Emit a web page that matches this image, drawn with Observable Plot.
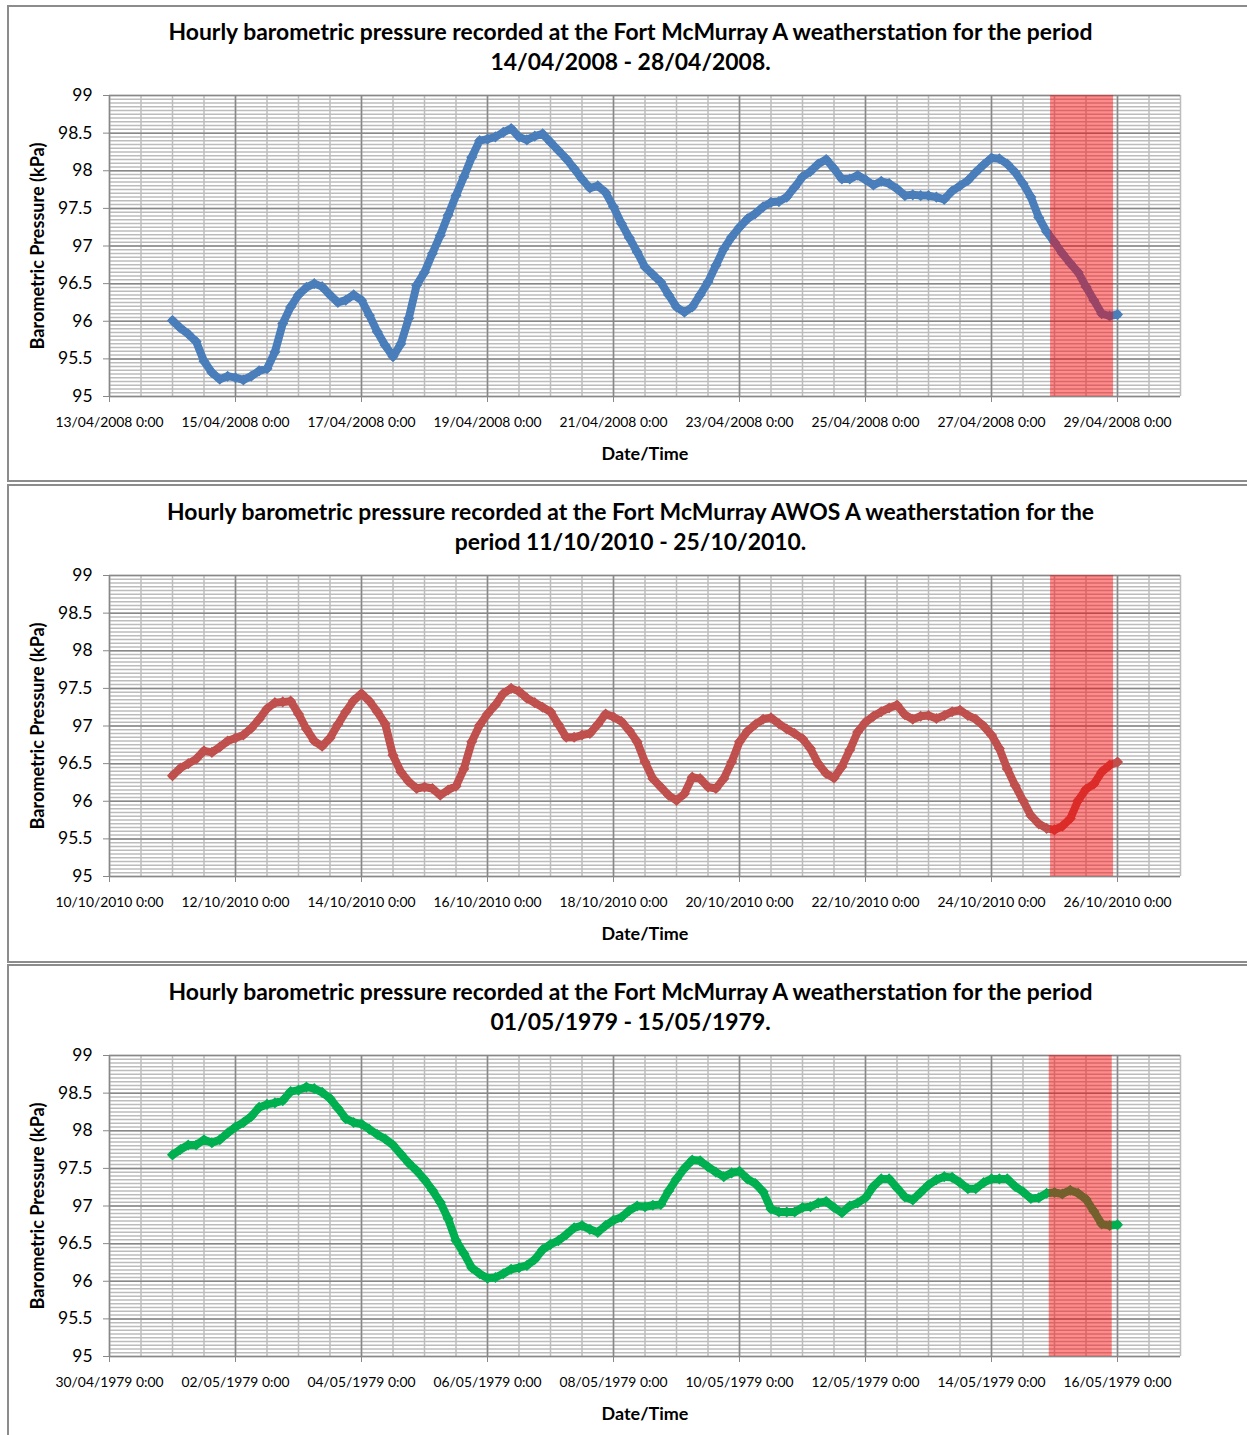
<!DOCTYPE html>
<html>
<head>
<meta charset="utf-8">
<script src="https://cdn.jsdelivr.net/npm/d3@7"></script>
<script src="https://cdn.jsdelivr.net/npm/@observablehq/plot@0.6"></script>
<style>
html, body { margin: 0; padding: 0; background: #fff; overflow: hidden; }
#page { position: relative; width: 1247px; height: 1435px; overflow: hidden; font-family: Lato, sans-serif; }
.panel { position: absolute; left: 7px; width: 1260px; border: 2px solid #8c8c8c; box-sizing: border-box; }
.chart { position: absolute; left: 0; }
</style>
</head>
<body>
<div id="page"></div>
<script>
// ---------------- DATA (3-hourly readings, kPa) ----------------
const yTickLabels = ["95", "95.5", "96", "96.5", "97", "97.5", "98", "98.5", "99"];
const yLabel = "Barometric Pressure (kPa)";
const xLabel = "Date/Time";

const titles2008 = ["Hourly barometric pressure recorded at the Fort McMurray A weatherstation for the period", "14/04/2008 - 28/04/2008."];
const titles2010 = ["Hourly barometric pressure recorded at the Fort McMurray AWOS A weatherstation for the", "period 11/10/2010 - 25/10/2010."];
const titles1979 = ["Hourly barometric pressure recorded at the Fort McMurray A weatherstation for the period", "01/05/1979 - 15/05/1979."];

const ticks2008 = ["13/04/2008 0:00", "15/04/2008 0:00", "17/04/2008 0:00", "19/04/2008 0:00", "21/04/2008 0:00", "23/04/2008 0:00", "25/04/2008 0:00", "27/04/2008 0:00", "29/04/2008 0:00"];
const ticks2010 = ["10/10/2010 0:00", "12/10/2010 0:00", "14/10/2010 0:00", "16/10/2010 0:00", "18/10/2010 0:00", "20/10/2010 0:00", "22/10/2010 0:00", "24/10/2010 0:00", "26/10/2010 0:00"];
const ticks1979 = ["30/04/1979 0:00", "02/05/1979 0:00", "04/05/1979 0:00", "06/05/1979 0:00", "08/05/1979 0:00", "10/05/1979 0:00", "12/05/1979 0:00", "14/05/1979 0:00", "16/05/1979 0:00"];

const start2008 = "14/04/2008 0:00";
const start2010 = "11/10/2010 0:00";
const start1979 = "01/05/1979 0:00";
const stepHours = 3;

const pressure2008 = [
  96.01, 95.91, 95.83, 95.73, 95.47, 95.32, 95.23, 95.27,
  95.25, 95.22, 95.27, 95.34, 95.37, 95.59, 95.97, 96.19,
  96.35, 96.45, 96.50, 96.46, 96.35, 96.25, 96.28, 96.35,
  96.28, 96.08, 95.86, 95.68, 95.53, 95.70, 96.04, 96.48,
  96.65, 96.90, 97.14, 97.41, 97.67, 97.92, 98.18, 98.40,
  98.42, 98.45, 98.51, 98.56, 98.45, 98.41, 98.46, 98.49,
  98.38, 98.27, 98.16, 98.03, 97.89, 97.77, 97.80, 97.71,
  97.52, 97.30, 97.11, 96.92, 96.72, 96.62, 96.52, 96.35,
  96.19, 96.12, 96.19, 96.35, 96.52, 96.74, 96.96, 97.12,
  97.25, 97.36, 97.43, 97.52, 97.58, 97.59, 97.65, 97.78,
  97.92, 97.99, 98.09, 98.15, 98.03, 97.89, 97.89, 97.94,
  97.88, 97.81, 97.86, 97.83, 97.76, 97.67, 97.68, 97.67,
  97.67, 97.65, 97.62, 97.73, 97.80, 97.87, 97.98, 98.08,
  98.17, 98.16, 98.09, 97.98, 97.83, 97.65, 97.38, 97.19,
  97.05, 96.90, 96.77, 96.65, 96.46, 96.28, 96.10, 96.07,
  96.09
];

const pressure2010 = [
  96.34, 96.44, 96.50, 96.56, 96.67, 96.65, 96.72, 96.80,
  96.84, 96.88, 96.97, 97.09, 97.23, 97.31, 97.32, 97.33,
  97.16, 96.96, 96.80, 96.73, 96.84, 97.02, 97.19, 97.34,
  97.43, 97.33, 97.19, 97.03, 96.61, 96.39, 96.26, 96.17,
  96.19, 96.17, 96.08, 96.15, 96.20, 96.43, 96.79, 97.01,
  97.16, 97.28, 97.43, 97.50, 97.46, 97.37, 97.31, 97.25,
  97.19, 97.02, 96.85, 96.85, 96.88, 96.90, 97.02, 97.16,
  97.12, 97.06, 96.94, 96.79, 96.52, 96.30, 96.19, 96.08,
  96.01, 96.10, 96.32, 96.30, 96.19, 96.17, 96.30, 96.52,
  96.79, 96.93, 97.02, 97.09, 97.11, 97.03, 96.96, 96.90,
  96.83, 96.70, 96.50, 96.37, 96.31, 96.46, 96.68, 96.92,
  97.05, 97.13, 97.19, 97.24, 97.28, 97.15, 97.09, 97.13,
  97.14, 97.10, 97.14, 97.19, 97.21, 97.14, 97.09, 97.00,
  96.88, 96.70, 96.43, 96.21, 96.01, 95.81, 95.70, 95.64,
  95.62, 95.67, 95.77, 96.01, 96.16, 96.23, 96.39, 96.48,
  96.52
];

const pressure1979 = [
  97.68, 97.75, 97.81, 97.81, 97.88, 97.84, 97.88, 97.97,
  98.05, 98.11, 98.19, 98.31, 98.35, 98.37, 98.40, 98.52,
  98.54, 98.58, 98.56, 98.51, 98.43, 98.30, 98.16, 98.11,
  98.09, 98.02, 97.95, 97.89, 97.81, 97.69, 97.57, 97.47,
  97.35, 97.21, 97.05, 96.83, 96.54, 96.37, 96.18, 96.10,
  96.04, 96.05, 96.10, 96.16, 96.18, 96.21, 96.29, 96.42,
  96.49, 96.54, 96.62, 96.71, 96.74, 96.69, 96.65, 96.74,
  96.81, 96.85, 96.94, 97.00, 96.99, 97.01, 97.02, 97.20,
  97.36, 97.50, 97.61, 97.60, 97.52, 97.45, 97.39, 97.44,
  97.46, 97.36, 97.30, 97.19, 96.96, 96.92, 96.92, 96.92,
  96.98, 96.99, 97.04, 97.06, 96.98, 96.91, 97.00, 97.04,
  97.11, 97.26, 97.36, 97.36, 97.24, 97.12, 97.08, 97.18,
  97.28, 97.35, 97.39, 97.38, 97.31, 97.23, 97.23, 97.31,
  97.36, 97.36, 97.36, 97.26, 97.19, 97.10, 97.11, 97.17,
  97.18, 97.16, 97.21, 97.17, 97.09, 96.93, 96.76, 96.74,
  96.75
];

// highlighted (red) period of each chart
const band2008 = ["27/04/2008 22:30", "28/04/2008 22:30"];
const band2010 = ["24/10/2010 22:30", "25/10/2010 22:30"];
const band1979 = ["14/05/1979 22:00", "15/05/1979 22:00"];

// ---------------- LAYOUT ----------------
const panels = [
  {boxTop: 5,   boxHeight: 477, plotTop: 95,   title: titles2008, ticks: ticks2008, start: start2008, values: pressure2008, band: band2008, color: "#4a7ebb"},
  {boxTop: 484, boxHeight: 479, plotTop: 575,  title: titles2010, ticks: ticks2010, start: start2010, values: pressure2010, band: band2010, color: "#c0504d"},
  {boxTop: 964, boxHeight: 480, plotTop: 1055, title: titles1979, ticks: ticks1979, start: start1979, values: pressure1979, band: band1979, color: "#00b050"}
];

const ctx = document.createElement("canvas").getContext("2d");
function fitSize(text, weight, target) {
  ctx.font = `${weight} 100px Lato`;
  return +(100 * target / ctx.measureText(text).width).toFixed(2);
}
const titleSize = fitSize(titles2008[0], "bold", 928);
const xTickSize = fitSize(ticks2008[0], "normal", 108);
const yTickSize = fitSize("98.5", "normal", 34.5);
const yLabelSize = fitSize(yLabel, "bold", 207);
const xLabelSize = fitSize(xLabel, "bold", 87);

const parse = d3.utcParse("%d/%m/%Y %H:%M");
const HOUR = 3600e3;
const majorY = yTickLabels.map(Number);
const minorY = d3.range(0, 81).map(i => 95 + i * 0.05);
const page = document.getElementById("page");

const MT = 90, PH = 301, MB = 70;

for (const p of panels) {
  const box = document.createElement("div");
  box.className = "panel";
  box.style.top = p.boxTop + "px";
  box.style.height = p.boxHeight + "px";
  page.appendChild(box);

  const tickDates = p.ticks.map(parse);
  const x0 = tickDates[0];
  const x1 = new Date(+tickDates[tickDates.length - 1] + 24 * HOUR);
  const s0 = parse(p.start);
  const data = p.values.map((v, i) => ({time: new Date(+s0 + i * stepHours * HOUR), value: v}));
  const minorX = d3.utcHour.every(12).range(x0, new Date(+x1 + 1));
  const labelMap = new Map(tickDates.map((d, i) => [+d, p.ticks[i]]));
  const band = [{start: parse(p.band[0]), end: parse(p.band[1])}];

  const chart = Plot.plot({
    width: 1247,
    height: MT + PH + MB,
    marginLeft: 109,
    marginRight: 67,
    marginTop: MT,
    marginBottom: MB,
    style: {fontFamily: "Lato, sans-serif", background: "transparent", color: "#000", overflow: "visible"},
    x: {type: "utc", domain: [x0, x1]},
    y: {domain: [95, 99]},
    marks: [
      Plot.ruleY(minorY, {stroke: "#bcbcbc", strokeWidth: 1.5}),
      Plot.ruleX(minorX, {stroke: "#bcbcbc", strokeWidth: 1.5}),
      Plot.ruleY(majorY, {stroke: "#888888", strokeWidth: 1.5}),
      Plot.ruleX(tickDates, {stroke: "#888888", strokeWidth: 1.5}),
      Plot.line(data, {x: "time", y: "value", stroke: p.color, strokeWidth: 8, strokeLinejoin: "round"}),
      Plot.dot(data, {x: "time", y: "value", symbol: "diamond2", r: 5, fill: p.color, stroke: "none"}),
      Plot.rect(band, {x1: "start", x2: "end", y1: () => 95, y2: () => 99, fill: "#ff0000", fillOpacity: 0.45}),
      Plot.axisY({ticks: majorY, tickFormat: d => yTickLabels[majorY.indexOf(d)], tickSize: 6, tickPadding: 11,
                  fontSize: yTickSize, stroke: "#888888", fill: "#000", label: null}),
      Plot.axisX({ticks: tickDates, tickFormat: d => labelMap.get(+d), tickSize: 6, tickPadding: 15,
                  fontSize: xTickSize, stroke: "#888888", fill: "#000", label: null}),
      Plot.text([yLabel], {text: d => d, frameAnchor: "left", textAnchor: "middle", dx: -71, rotate: -90,
                  fontWeight: "bold", fontSize: yLabelSize, fill: "#000"}),
      Plot.text([xLabel], {text: d => d, frameAnchor: "bottom", dy: 63,
                  fontWeight: "bold", fontSize: xLabelSize, fill: "#000"}),
      Plot.text([p.title.join("\n")], {text: d => d, frameAnchor: "top", dx: -14.5, dy: -26, lineAnchor: "bottom",
                  lineHeight: 30 / titleSize, fontWeight: "bold", fontSize: titleSize, fill: "#000"})
    ]
  });
  chart.classList.add("chart");
  chart.style.top = (p.plotTop - MT) + "px";
  page.appendChild(chart);
}
</script>
</body>
</html>
